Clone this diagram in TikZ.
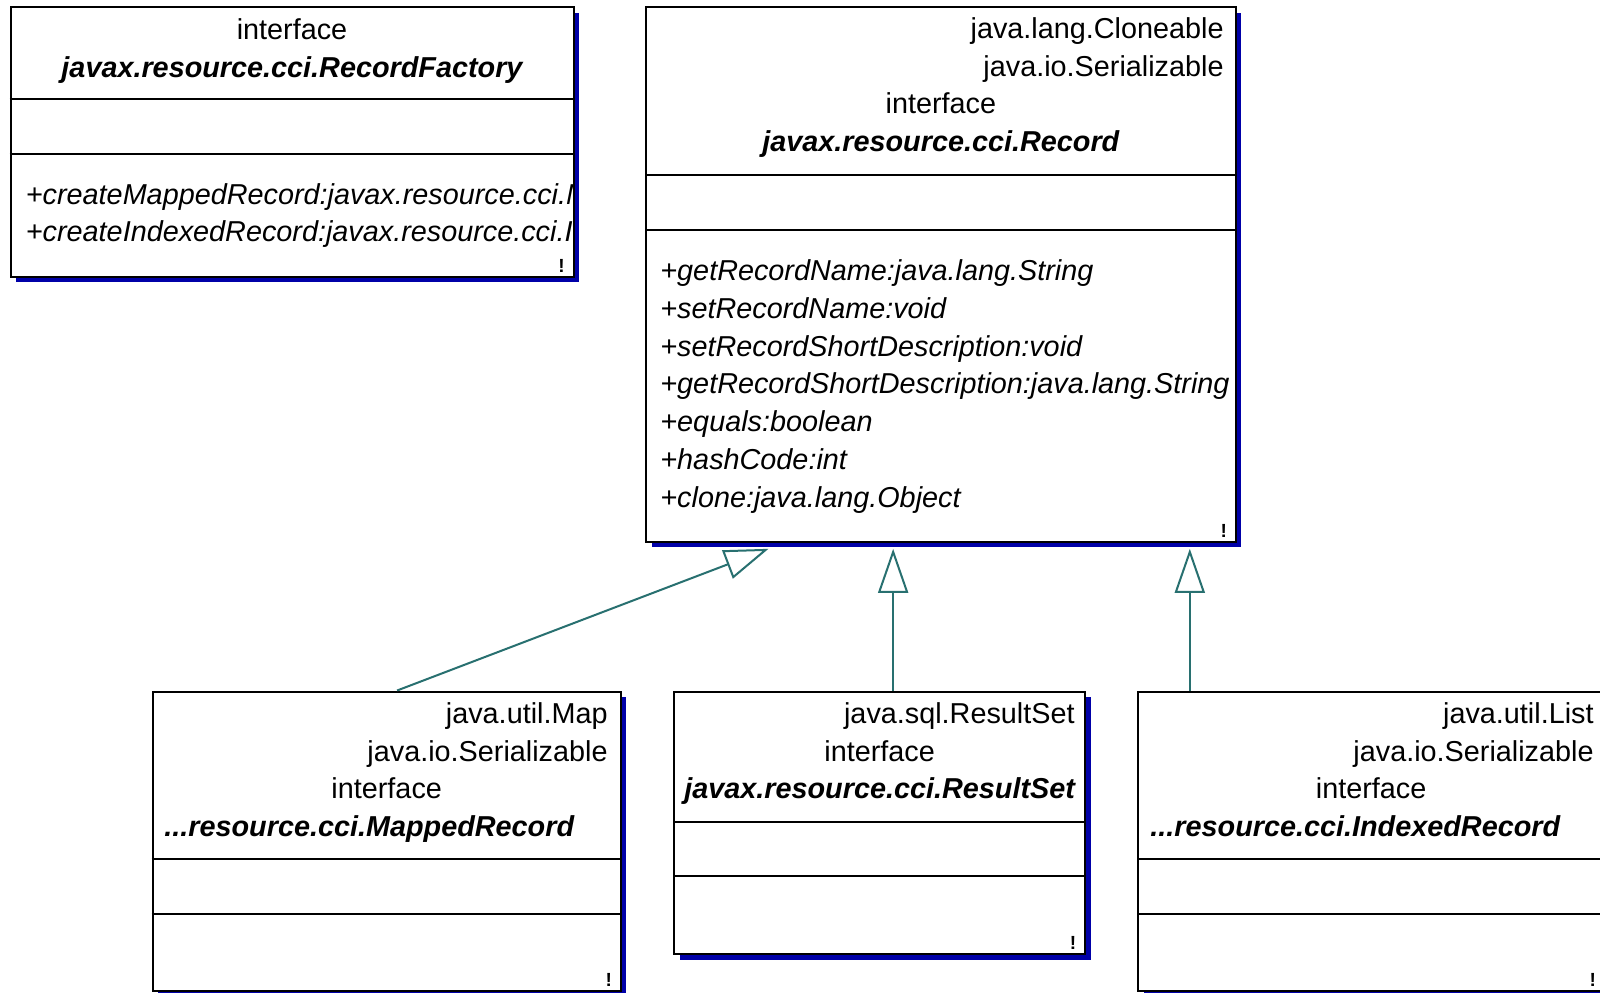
\documentclass[tikz,border=0pt]{standalone}
\usepackage{fontspec}
\setmainfont{Liberation Sans}
\usetikzlibrary{arrows.meta,fit,shadows,calc}
\definecolor{shadowblue}{RGB}{0,0,168}
\definecolor{linkteal}{RGB}{40,112,112}
\tikzset{
  umlbox/.style={draw=black, line width=1pt, fill=white, inner sep=0pt, rectangle,
    drop shadow={shadow xshift=2.75pt, shadow yshift=-2.75pt, fill=shadowblue, opacity=1}},
  divider/.style={draw=black, line width=1pt},
  txt/.style={inner sep=0pt, font=\fontsize{14.4}{17}\selectfont},
  cname/.style={inner sep=0pt, font=\fontsize{14.4}{17}\selectfont\bfseries\itshape},
  meth/.style={inner sep=0pt, anchor=base west, font=\fontsize{14.4}{17}\selectfont\itshape},
  bang/.style={inner sep=0pt, anchor=base, font=\fontsize{9.5}{9.5}\selectfont\bfseries},
  inh/.style={draw=linkteal, line width=1pt, -{Triangle[open, length=22pt, width=15pt]}}
}
\begin{document}
\begin{tikzpicture}[x=0.5pt,y=-0.5pt]
\useasboundingbox[fill=white] (0,0) rectangle (1600,992);

% ---------- RecordFactory ----------
\node[umlbox, fit={(10.5,7) (573.5,276.5)}] (rf) {};
\draw[divider] (rf.west |- 0,99) -- (rf.east |- 0,99);
\draw[divider] (rf.west |- 0,154) -- (rf.east |- 0,154);
\node[txt, anchor=base] (rf1) at (rf.north |- 0,39) {interface};
\node[cname, anchor=base] (rf2) at (rf.north |- 0,77) {javax.resource.cci.RecordFactory};
\begin{scope}
\clip (rf.north west) rectangle ([xshift=-0.5pt]rf.south east);
\node[meth] (rfm1) at (25.5,204) {+createMappedRecord:javax.resource.cci.MappedRecord};
\node[meth] (rfm2) at (25.5,241.8) {+createIndexedRecord:javax.resource.cci.IndexedRecord};
\end{scope}
\node[bang] (rfb) at ([xshift=-6.5pt]rf.south east |- 0,272) {!};

% ---------- Record ----------
\node[umlbox, fit={(646,7) (1235.7,541.8)}] (rec) {};
\draw[divider] (rec.west |- 0,174.5) -- (rec.east |- 0,174.5);
\draw[divider] (rec.west |- 0,229.6) -- (rec.east |- 0,229.6);
\node[txt, anchor=base east] (rec1) at (1224,38.3) {java.lang.Cloneable};
\node[txt, anchor=base east] (rec2) at (1224,76.1) {java.io.Serializable};
\node[txt, anchor=base] (rec3) at (rec.north |- 0,113.9) {interface};
\node[cname, anchor=base] (rec4) at (rec.north |- 0,151.7) {javax.resource.cci.Record};
\begin{scope}
\clip (rec.north west) rectangle ([xshift=-0.5pt]rec.south east);
\node[meth] (recm1) at (660,280.4) {+getRecordName:java.lang.String};
\node[meth] (recm2) at (660,318.2) {+setRecordName:void};
\node[meth] (recm3) at (660,356.0) {+setRecordShortDescription:void};
\node[meth] (recm4) at (660,393.8) {+getRecordShortDescription:java.lang.String};
\node[meth] (recm5) at (660,431.6) {+equals:boolean};
\node[meth] (recm6) at (660,469.4) {+hashCode:int};
\node[meth] (recm7) at (660,507.2) {+clone:java.lang.Object};
\end{scope}
\node[bang] (recb) at ([xshift=-6.5pt]rec.south east |- 0,537) {!};

% ---------- MappedRecord ----------
\node[umlbox, fit={(152.7,691.5) (620.7,991)}] (mr) {};
\draw[divider] (mr.west |- 0,859) -- (mr.east |- 0,859);
\draw[divider] (mr.west |- 0,913.5) -- (mr.east |- 0,913.5);
\node[txt, anchor=base east] (mr1) at (608,723.3) {java.util.Map};
\node[txt, anchor=base east] (mr2) at (608,761) {java.io.Serializable};
\node[txt, anchor=base] (mr3) at (mr.north |- 0,798.6) {interface};
\node[cname, anchor=base west] (mr4) at (164,836.3) {...resource.cci.MappedRecord};
\node[bang] (mrb) at ([xshift=-6.5pt]mr.south east |- 0,986) {!};

% ---------- ResultSet ----------
\node[umlbox, fit={(674.3,691.5) (1085,954)}] (rs) {};
\draw[divider] (rs.west |- 0,821.5) -- (rs.east |- 0,821.5);
\draw[divider] (rs.west |- 0,876) -- (rs.east |- 0,876);
\node[txt, anchor=base east] (rs1) at (1075,723.3) {java.sql.ResultSet};
\node[txt, anchor=base] (rs2) at (rs.north |- 0,761) {interface};
\node[cname, anchor=base] (rs3) at (rs.north |- 0,798.6) {javax.resource.cci.ResultSet};
\node[bang] (rsb) at ([xshift=-6.5pt]rs.south east |- 0,949) {!};

% ---------- IndexedRecord ----------
\node[umlbox, fit={(1138.3,691.5) (1604,991)}] (ir) {};
\draw[divider] (ir.west |- 0,859) -- (ir.east |- 0,859);
\draw[divider] (ir.west |- 0,913.5) -- (ir.east |- 0,913.5);
\node[txt, anchor=base east] (ir1) at (1594,723.3) {java.util.List};
\node[txt, anchor=base east] (ir2) at (1594,761) {java.io.Serializable};
\node[txt, anchor=base] (ir3) at (ir.north |- 0,798.6) {interface};
\node[cname, anchor=base west] (ir4) at (1150,836.3) {...resource.cci.IndexedRecord};
\node[bang] (irb) at (1592.7,986) {!};

% ---------- connectors ----------
\coordinate (recshadow) at ([yshift=-3pt]rec.south);
\coordinate (a1s) at ([xshift=5.2pt]mr.north);
\coordinate (a1e) at ([xshift=61.75pt,yshift=-3pt]rec.south west);
\coordinate (a2s) at ([xshift=6.75pt]rs.north);
\coordinate (a3s) at ([xshift=26.25pt]ir.north west);
\draw[inh] (a1s) -- (a1e);
\draw[inh] (a2s) -- (a2s |- recshadow);
\draw[inh] (a3s) -- (a3s |- recshadow);
\end{tikzpicture}
\end{document}
